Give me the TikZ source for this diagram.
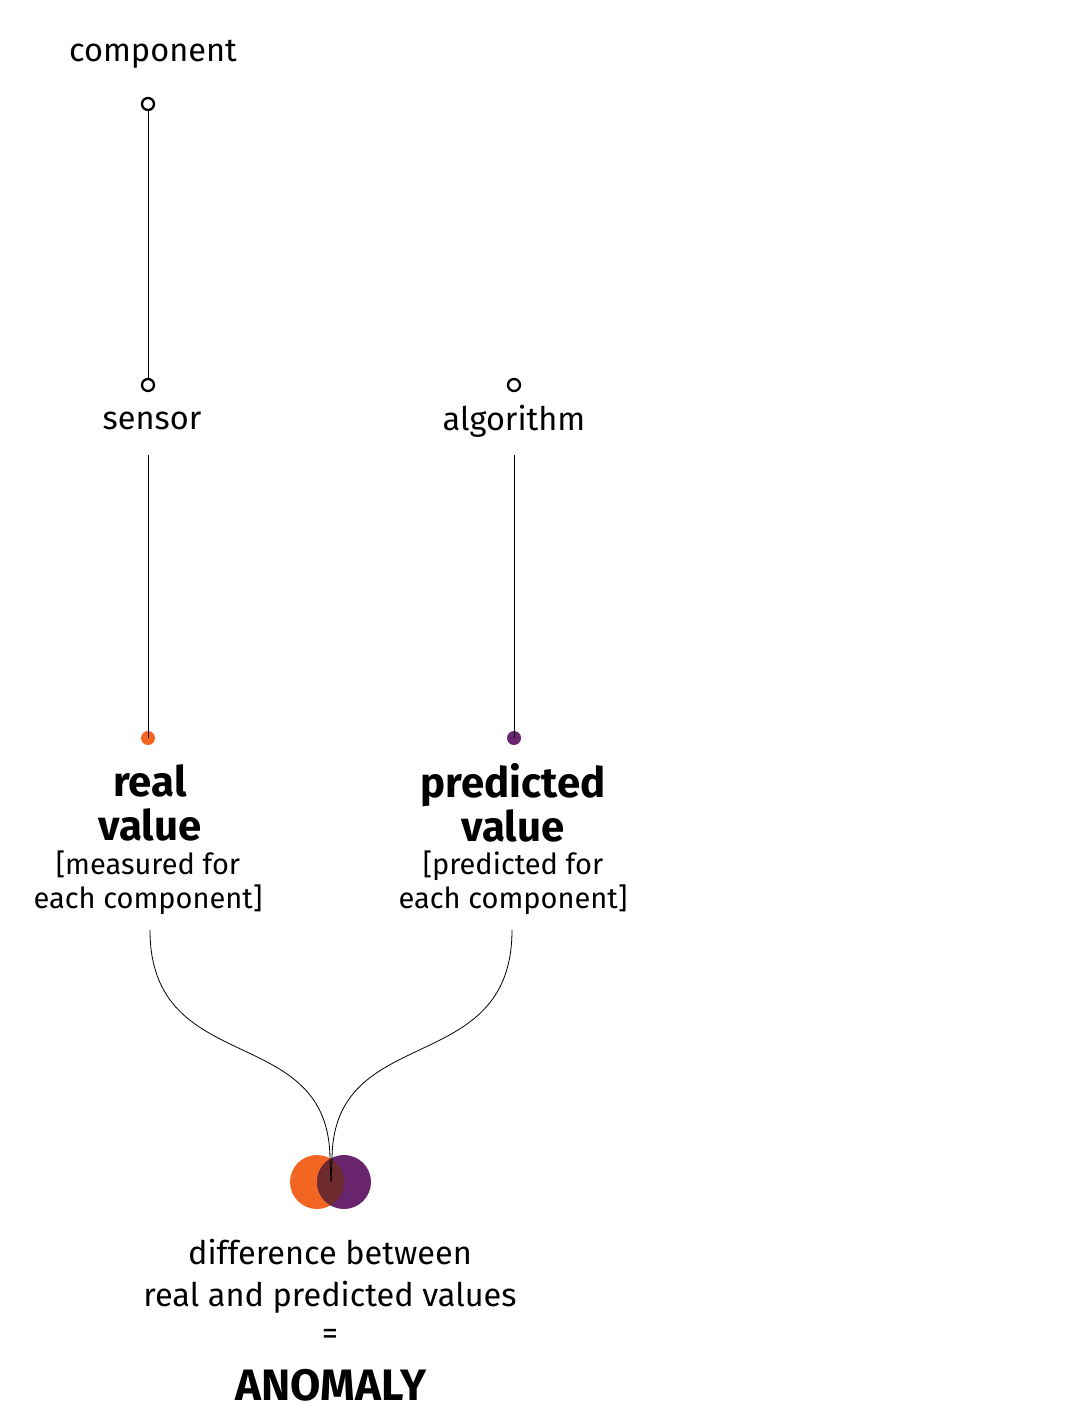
\documentclass[tikz,border=0pt]{standalone}
\usepackage{fontspec}
\setmainfont{Fira Sans}
\definecolor{orng}{HTML}{F26522}
\definecolor{purp}{HTML}{68246C}
\definecolor{ovl}{HTML}{6E2B2E}
\begin{document}
\begin{tikzpicture}[x=1pt,y=-1pt,
  lbl/.style={font=\fontsize{32.5}{42}\selectfont, align=center, inner sep=0pt},
  sml/.style={font=\fontsize{29}{34}\selectfont, align=center, inner sep=0pt},
  big/.style={font=\fontsize{42}{46}\selectfont\bfseries, align=center, inner sep=0pt},
  ring/.style={circle, draw=black, line width=2.3pt, minimum size=12pt, inner sep=0pt},
  dot/.style={circle, minimum size=14pt, inner sep=0pt},
  conn/.style={line width=0.8pt}]
\useasboundingbox (0,0) rectangle (1072,1415);
% left column
\node[lbl] (comp) at (153,54) {component};
\node[ring] (r1) at (148,104) {};
\node[ring] (r2) at (148,385) {};
\node[lbl] (sens) at (152,421) {sensor};
\coordinate (s1) at (148,455);
\node[dot, fill=orng] (od) at (148,738) {};
\node[big] (real) at (150,803) {real\\[-2pt]value};
\node[sml] (meas) at (148,883) {[measured for\\each component]};
% right column
\node[ring] (r3) at (514,385) {};
\node[lbl] (alg) at (514,421) {algorithm};
\coordinate (a1) at (514,455);
\node[dot, fill=purp] (pd) at (514,738) {};
\node[big] (pred) at (513,803) {predicted\\[-2pt]value};
\node[sml] (pmeas) at (513,883) {[predicted for\\each component]};
% connectors
\draw[conn] (r1) -- (r2);
\draw[conn] (s1) -- (od.center);
\draw[conn] (a1) -- (pd.center);
% venn
\fill[orng] (317,1182) circle (27);
\fill[purp] (344,1182) circle (27);
\begin{scope}
  \clip (317,1182) circle (27);
  \fill[ovl] (344,1182) circle (27);
\end{scope}
\coordinate (vc) at (331,1182);
\coordinate (c1) at (150,930);
\coordinate (c2) at (512,930);
\draw[conn] (c1) .. controls (150,1080) and (330,1020) .. (330,1160) -- (vc);
\draw[conn] (c2) .. controls (512,1080) and (332,1020) .. (332,1160) -- (vc);
% bottom text
\node[lbl] (diff) at (330,1276) {difference between\\real and predicted values};
\node[lbl] (eq) at (330,1337) {=};
\node[big, font=\fontsize{44}{48}\selectfont\bfseries] (anom) at (331,1385) {ANOMALY};
\end{tikzpicture}
\end{document}
